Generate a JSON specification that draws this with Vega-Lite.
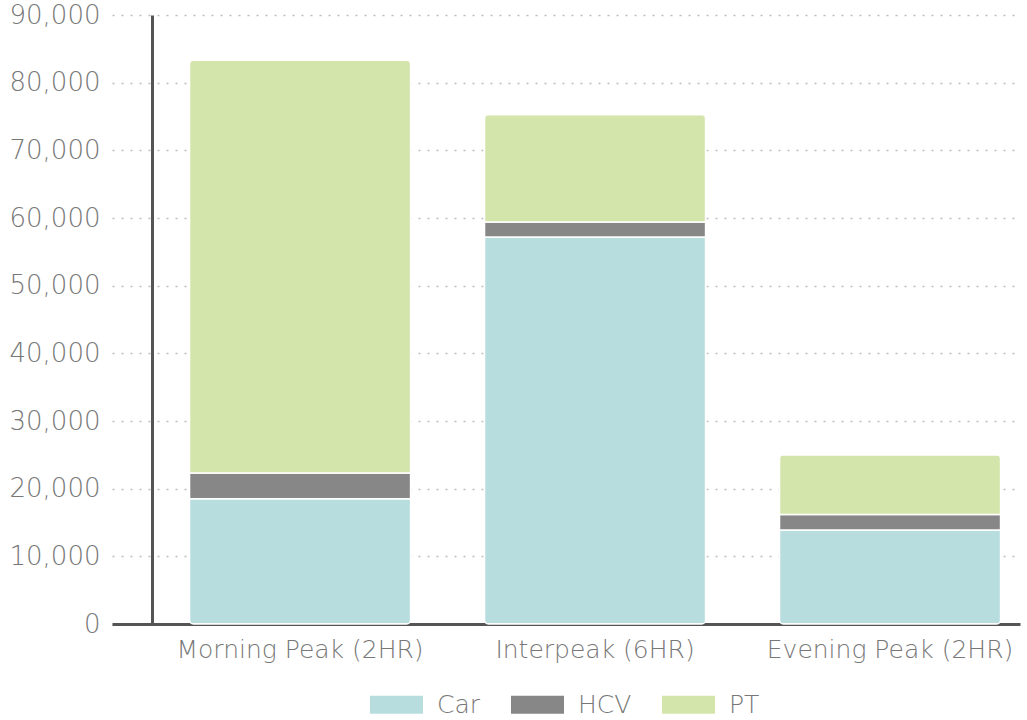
{
  "$schema": "https://vega.github.io/schema/vega-lite/v6.json",
  "autosize": {"type": "none"},
  "width": 908,
  "height": 609,
  "padding": {"left": 112, "top": 15, "right": 7, "bottom": 96},
  "background": "white",
  "data": {
    "values": [
      {"period": "Morning Peak (2HR)", "mode": "Car", "trips": 18500},
      {"period": "Morning Peak (2HR)", "mode": "HCV", "trips": 3800},
      {"period": "Morning Peak (2HR)", "mode": "PT", "trips": 61000},
      {"period": "Interpeak (6HR)", "mode": "Car", "trips": 57200},
      {"period": "Interpeak (6HR)", "mode": "HCV", "trips": 2200},
      {"period": "Interpeak (6HR)", "mode": "PT", "trips": 15900},
      {"period": "Evening Peak (2HR)", "mode": "Car", "trips": 13900},
      {"period": "Evening Peak (2HR)", "mode": "HCV", "trips": 2300},
      {"period": "Evening Peak (2HR)", "mode": "PT", "trips": 8800}
    ]
  },
  "mark": {"type": "bar", "stroke": "white", "strokeWidth": 1.5, "cornerRadius": 4},
  "encoding": {
    "x": {
      "field": "period",
      "type": "nominal",
      "sort": null,
      "scale": {"paddingInner": 0.25, "paddingOuter": 0.164, "align": 0.8},
      "axis": {
        "title": null,
        "labelAngle": 0,
        "labelLimit": 400,
        "labelFont": "DejaVu Sans",
        "labelFontWeight": 300,
        "labelFontSize": 25,
        "labelColor": "#777777",
        "labelPadding": 13,
        "ticks": false,
        "domainColor": "#555555",
        "domainWidth": 3
      }
    },
    "y": {
      "field": "trips",
      "type": "quantitative",
      "stack": "zero",
      "scale": {"domain": [0, 90000], "nice": false},
      "axis": {
        "title": null,
        "values": [0, 10000, 20000, 30000, 40000, 50000, 60000, 70000, 80000, 90000],
        "format": ",d",
        "offset": -40,
        "labelFont": "DejaVu Sans",
        "labelFontWeight": 300,
        "labelFontSize": 26,
        "labelColor": "#777777",
        "labelPadding": 52,
        "ticks": false,
        "domainColor": "#555555",
        "domainWidth": 3,
        "grid": true,
        "gridColor": "#bdbdbd",
        "gridDash": [2, 7],
        "gridWidth": 1.5
      }
    },
    "order": {"field": "mode", "sort": "ascending"},
    "color": {
      "field": "mode",
      "type": "nominal",
      "scale": {"domain": ["Car", "HCV", "PT"], "range": ["#b8dddf", "#878787", "#d4e5ab"]},
      "legend": {
        "title": null,
        "orient": "none",
        "legendX": 258,
        "legendY": 663,
        "direction": "horizontal",
        "symbolType": "M-1,-0.34H1V0.34H-1Z",
        "symbolSize": 2809,
        "symbolStrokeWidth": 0,
        "labelFont": "DejaVu Sans",
        "labelFontWeight": 300,
        "labelFontSize": 25,
        "labelColor": "#777777",
        "labelOffset": 14,
        "columnPadding": 30
      }
    }
  },
  "config": {"view": {"stroke": null}}
}
